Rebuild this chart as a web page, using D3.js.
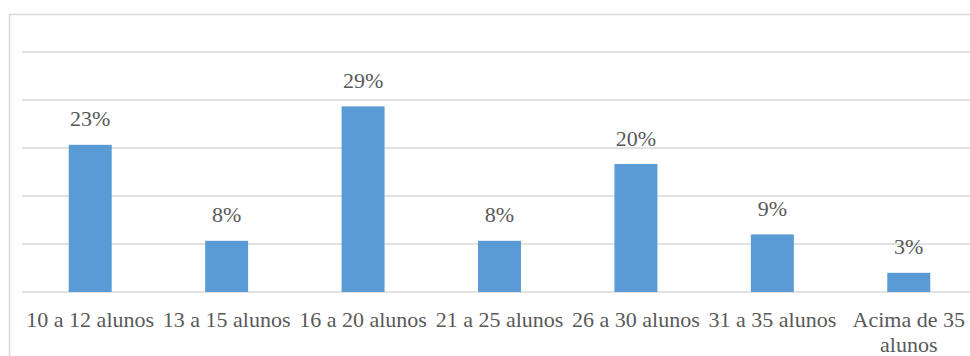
<!DOCTYPE html>
<html>
<head>
<meta charset="utf-8">
<script src="https://cdn.jsdelivr.net/npm/d3@7"></script>
<style>
  html, body { margin: 0; padding: 0; background: #fff; }
  svg { display: block; }
  .lbl { font-family: "Liberation Serif"; font-size: 22px; fill: #595959; }
</style>
</head>
<body>
<svg id="chart" width="970" height="356"></svg>
<script>
// Distribuição de turmas por número de alunos
const categories = [
  ["10 a 12 alunos"],
  ["13 a 15 alunos"],
  ["16 a 20 alunos"],
  ["21 a 25 alunos"],
  ["26 a 30 alunos"],
  ["31 a 35 alunos"],
  ["Acima de 35", "alunos"]
];
const values = [23, 8, 29, 8, 20, 9, 3];
const valueLabels = ["23%", "8%", "29%", "8%", "20%", "9%", "3%"];
const gridTicks = [0, 7.5, 15, 22.5, 30, 37.5];

const svg = d3.select("#chart");

// chart frame
svg.append("rect")
  .attr("x", 9.5).attr("y", 14.5)
  .attr("width", 970).attr("height", 360)
  .attr("fill", "none").attr("stroke", "#d9d9d9").attr("stroke-width", 1.5);

const plot = { left: 22, right: 977, top: 52, bottom: 292 };
const keys = categories.map(c => c.join(" "));

const x = d3.scaleBand()
  .domain(keys)
  .range([plot.left, plot.right])
  .paddingInner(0.685)
  .paddingOuter(0.3425);

const y = d3.scaleLinear()
  .domain([0, 37.5])
  .range([plot.bottom, plot.top]);

// horizontal gridlines
svg.append("g")
  .selectAll("line")
  .data(gridTicks)
  .join("line")
  .attr("x1", plot.left).attr("x2", 970)
  .attr("y1", d => y(d)).attr("y2", d => y(d))
  .attr("stroke", "#d9d9d9").attr("stroke-width", 1.5);

// bars
svg.append("g")
  .selectAll("rect")
  .data(values)
  .join("rect")
  .attr("x", (d, i) => x(keys[i]))
  .attr("y", d => y(d))
  .attr("width", x.bandwidth())
  .attr("height", d => y(0) - y(d))
  .attr("fill", "#5b9bd5");

// value labels
svg.append("g")
  .selectAll("text")
  .data(values)
  .join("text")
  .attr("class", "lbl")
  .attr("x", (d, i) => x(keys[i]) + x.bandwidth() / 2)
  .attr("y", d => y(d) - 18.5)
  .attr("text-anchor", "middle")
  .text((d, i) => valueLabels[i]);

// category labels
const catG = svg.append("g");
categories.forEach((lines, i) => {
  const cx = x(keys[i]) + x.bandwidth() / 2;
  const t = catG.append("text")
    .attr("class", "lbl")
    .attr("x", cx)
    .attr("y", 327)
    .attr("text-anchor", "middle");
  lines.forEach((ln, j) => {
    t.append("tspan").attr("x", cx).attr("dy", j === 0 ? 0 : 25).text(ln);
  });
});
</script>
</body>
</html>
